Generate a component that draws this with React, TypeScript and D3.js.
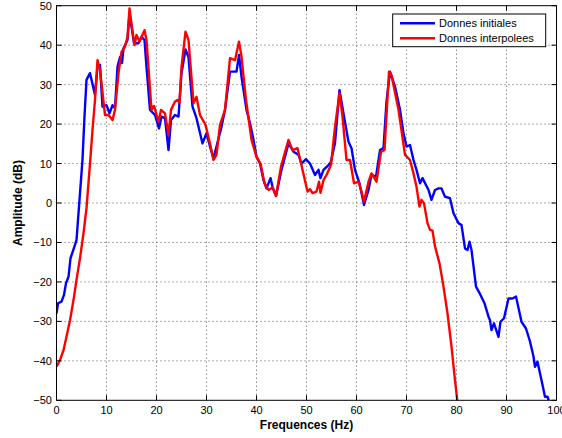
import React from "react";
import * as d3 from "d3";

const xTicks = [0, 10, 20, 30, 40, 50, 60, 70, 80, 90, 100];
const yTicks = [-50, -40, -30, -20, -10, 0, 10, 20, 30, 40, 50];

const blueFreq = [0,0.3,1.0,1.5,1.9,2.4,2.8,3.6,4.0,4.2,4.6,5.2,5.6,6.0,6.7,7.7,8.2,8.7,9.2,10.0,10.6,11.2,11.7,12.2,12.7,13.1,13.4,14.2,14.6,15.5,16.4,17.0,17.6,18.0,18.7,19.7,20.5,21.0,21.7,22.4,22.9,23.7,24.4,25.0,25.8,26.4,27.2,28.0,29.2,30.0,30.7,31.4,32.0,33.0,33.7,34.7,36.0,36.5,37.0,38.0,38.7,39.4,40.0,40.7,41.4,42.0,42.8,43.2,43.9,45.0,46.4,47.4,48.4,49.0,49.9,50.7,51.7,52.4,52.8,53.4,54.4,54.9,55.7,56.6,57.4,58.4,59.0,59.7,60.6,61.0,61.5,62.4,63.0,63.9,64.7,65.4,66.0,66.7,67.7,68.7,69.4,70.0,70.7,71.4,72.0,72.7,73.2,74.4,75.0,75.7,76.4,77.0,77.7,78.7,79.4,80.4,81.0,81.7,82.2,82.6,83.0,83.9,84.8,85.6,86.4,86.7,87.0,87.5,88.4,88.8,89.5,90.4,91.2,91.9,93.0,93.9,94.7,95.4,95.7,96.2,97.0,97.7,98.2,98.7];
const blueAmp = [-28,-25.4,-25,-23.3,-20.3,-18.7,-14,-11,-9.4,-6,0.8,11,22,31.2,32.9,27.4,34.5,35,24.4,24.8,22.7,24.8,24,34.5,37,35.5,39.2,41.3,48,40.5,40.5,42.1,41.3,34.5,23.6,22.3,18.9,21.9,21.5,13.4,21,22.3,21.9,32.9,38.9,37,24.4,21.5,15.1,17.7,14.3,11.3,14.3,19.3,23.6,33.3,33.3,37.5,32,23.6,20.2,16,11.7,10,5.8,3.7,6.3,4.1,1.8,8.4,15.1,13,12.2,10,11.1,10,7.1,8.4,6.3,8.4,9.6,10.5,15.2,28.6,22.7,15.5,13.9,8.4,5,2.5,-0.5,3.3,7.1,6.7,13.4,13.9,25.7,33.3,29.5,23.6,17.7,14.3,14.7,10.9,8.4,5,6.3,3.3,0.8,3.3,3.7,3.7,1.6,1.2,-2.6,-5.1,-5.6,-11.5,-11.9,-9.8,-11.9,-21.2,-23.3,-25.4,-28.8,-29.7,-32.2,-30.5,-33.9,-30.1,-29.2,-24.2,-24.2,-23.7,-30.1,-31.8,-35.1,-38.9,-41.5,-40.2,-44.9,-49.1,-49.1,-51];

const redFreq = [0,0.7,1.4,2.0,2.7,3.4,4.0,4.7,5.4,6.0,6.7,7.2,7.7,8.2,8.7,9.7,10.4,11.2,11.7,12.4,13.0,13.7,14.2,14.6,15.0,15.6,16.0,16.6,17.6,18.0,19.0,19.5,20.4,20.9,21.7,22.4,22.9,23.7,24.2,24.6,25.0,25.8,26.4,27.4,28.0,28.7,29.8,30.7,31.4,32.0,32.7,33.7,34.7,35.7,36.5,37.0,37.9,39.0,40.0,40.8,41.6,42.4,43.2,43.9,44.9,46.4,47.2,48.2,49.2,50.2,50.7,51.2,52.0,52.5,52.8,53.4,54.0,54.9,55.7,56.6,57.2,58.0,58.7,59.5,60.4,61.0,61.5,62.4,63.0,64.0,64.9,65.6,66.5,67.0,68.4,69.7,70.7,71.4,72.0,72.6,73.0,73.5,74.2,74.7,75.2,75.7,76.6,77.4,78.2,79.0,79.7,80.2];
const redAmp = [-41.5,-39.8,-37.3,-33.9,-29.7,-24.6,-19.5,-14,-7.7,-1.3,10,18.5,26.1,36.2,33.7,22.3,22.3,21,23.6,32.9,38.3,39.6,42.1,49.3,45.5,40,42.6,40.9,43.8,41.3,23.6,24.6,20.6,23.6,22.7,17.2,23.6,25.7,26.1,25.5,34.5,43.4,41.3,25.3,26.9,22.3,19.8,15.1,10.9,12.2,19.8,23.6,36.7,36.2,40.9,37.1,26.1,16,11.7,10,5,3.3,3.9,1.8,9.2,16,13.4,13.9,8.4,2.9,3.5,2.5,2.9,5.4,2.6,5.8,7.1,9.6,19.3,27.8,21.9,10.9,10.9,5,5.4,2.9,0.3,5.4,7.5,5.4,13,13.4,33.3,32.4,23.6,12.2,10.9,7.5,4.1,-0.9,0.8,-0.1,-5.1,-6.8,-7,-11,-15.3,-21.2,-28,-36.4,-44.9,-50.5];

const seriesNames = ["Donnes initiales", "Donnes interpolees"];
const seriesColors = ["#0000ff", "#ff0000"];
const xLabel = "Frequences (Hz)";
const yLabel = "Amplitude (dB)";

const W = 562, H = 438;
const L = 56.5, R = 556.5, T = 5.7, B = 400.3;
const FONT = "'Liberation Sans', Arial, Helvetica, sans-serif";

export default function App() {
  const x = d3.scaleLinear().domain([0, 100]).range([L, R]);
  const y = d3.scaleLinear().domain([-50, 50]).range([B, T]);
  const line = d3.line<[number, number]>().x(d => x(d[0])).y(d => y(d[1]));
  const blue = line(blueFreq.map((f, i) => [f, blueAmp[i]]) as [number, number][]) || "";
  const red = line(redFreq.map((f, i) => [f, redAmp[i]]) as [number, number][]) || "";
  const tl = 5;
  return (
    <svg width={W} height={H} style={{ position: "absolute", left: 0, top: 0, background: "#fff" }} fontFamily={FONT}>
      <defs>
        <clipPath id="pa"><rect x={L} y={T} width={R - L} height={B - T} /></clipPath>
      </defs>
      <rect x={0} y={0} width={W} height={H} fill="#fff" />
      {/* grid */}
      {xTicks.slice(1, -1).map(t => (
        <line key={"gx" + t} x1={x(t)} x2={x(t)} y1={T} y2={B} stroke="#555" strokeWidth={1} strokeDasharray="1,3" />
      ))}
      {yTicks.slice(1, -1).map(t => (
        <line key={"gy" + t} x1={L} x2={R} y1={y(t)} y2={y(t)} stroke="#555" strokeWidth={1} strokeDasharray="1,3" />
      ))}
      {/* curves */}
      <g clipPath="url(#pa)">
        <path d={blue} fill="none" stroke={seriesColors[0]} strokeWidth={2.4} strokeLinejoin="round" />
        <path d={red} fill="none" stroke={seriesColors[1]} strokeWidth={2.4} strokeLinejoin="round" />
      </g>
      {/* box */}
      <rect x={L} y={T} width={R - L} height={B - T} fill="none" stroke="#000" strokeWidth={1} />
      {/* ticks */}
      {xTicks.map(t => (
        <g key={"tx" + t}>
          <line x1={x(t)} x2={x(t)} y1={B} y2={B - tl} stroke="#000" />
          <line x1={x(t)} x2={x(t)} y1={T} y2={T + tl} stroke="#000" />
          <text x={x(t)} y={414} textAnchor="middle" fontSize={11} fill="#000">{t}</text>
        </g>
      ))}
      {yTicks.map(t => (
        <g key={"ty" + t}>
          <line x1={L} x2={L + tl} y1={y(t)} y2={y(t)} stroke="#000" />
          <line x1={R} x2={R - tl} y1={y(t)} y2={y(t)} stroke="#000" />
          <text x={52} y={y(t) + 4} textAnchor="end" fontSize={11} fill="#000">{t < 0 ? "\u2212" + Math.abs(t) : t}</text>
        </g>
      ))}
      <text x={(L + R) / 2} y={429} textAnchor="middle" fontSize={12} fontWeight="bold" fill="#000">{xLabel}</text>
      <text transform={`translate(22,${(T + B) / 2}) rotate(-90)`} textAnchor="middle" fontSize={12} fontWeight="bold" fill="#000">{yLabel}</text>
      {/* legend */}
      <rect x={392.7} y={14} width={153} height={32.7} fill="#fff" stroke="#000" strokeWidth={1} />
      {seriesNames.map((n, i) => (
        <g key={n}>
          <line x1={400} x2={435} y1={23.3 + i * 15} y2={23.3 + i * 15} stroke={seriesColors[i]} strokeWidth={2.4} />
          <text x={439} y={27.3 + i * 15} fontSize={11} fill="#000">{n}</text>
        </g>
      ))}
    </svg>
  );
}
